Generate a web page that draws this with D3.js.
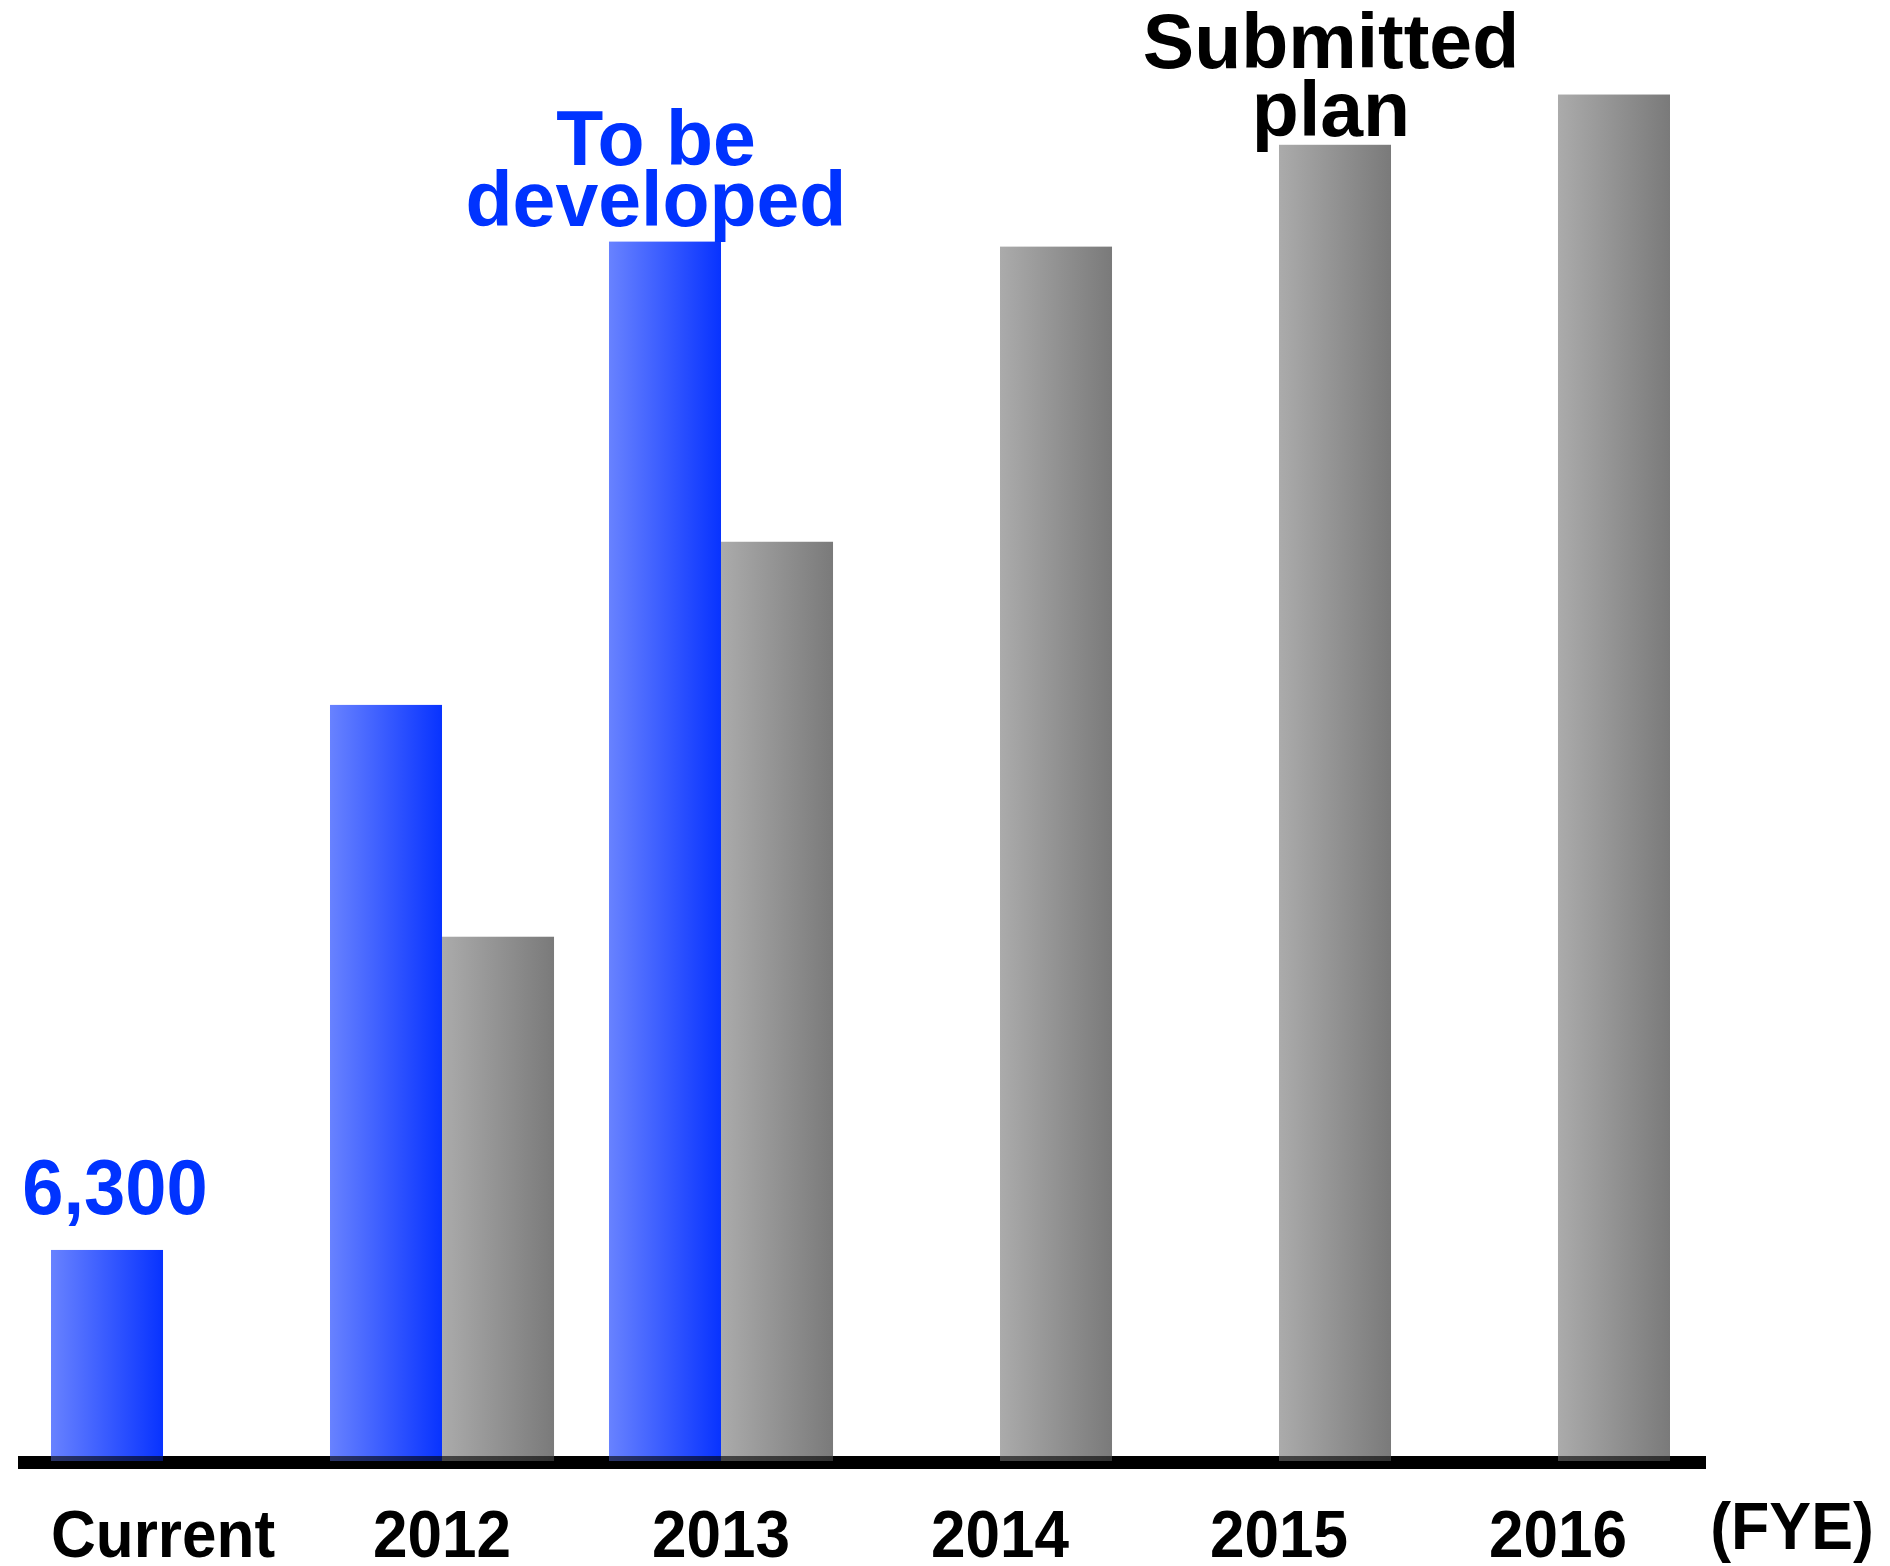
<!DOCTYPE html>
<html>
<head>
<meta charset="utf-8">
<script src="https://cdn.jsdelivr.net/npm/d3@7"></script>
<style>
  html, body { margin: 0; padding: 0; background: #fff; }
  svg { display: block; }
  text { font-family: "Liberation Sans", Arial, sans-serif; font-weight: bold; }
</style>
</head>
<body>
<script>
const categories = ["Current", "2012", "2013", "2014", "2015", "2016"];
const seriesKeys = ["developed", "submitted"];
const developedValues = [6300, 22570, 36400, null, null, null];
const submittedValues = [null, 15650, 27440, 36250, 39290, 40790];
const unitLabel = "(FYE)";
const currentLabel = "6,300";
const developedNote = ["To be", "developed"];
const submittedNote = ["Submitted", "plan"];

const W = 1890, H = 1566;
const baseY = 1461;

const svg = d3.select("body").append("svg").attr("width", W).attr("height", H);

const defs = svg.append("defs");
function grad(id, c0, c1) {
  const g = defs.append("linearGradient").attr("id", id)
    .attr("x1", "0%").attr("x2", "100%").attr("y1", "0%").attr("y2", "0%");
  g.append("stop").attr("offset", "0%").attr("stop-color", c0);
  g.append("stop").attr("offset", "100%").attr("stop-color", c1);
}
grad("gBlue", "#6882ff", "#0833ff");
grad("gGray", "#ababab", "#7a7a7a");

const x0 = d3.scaleBand().domain(categories).range([51, 1670]).paddingInner(0.197).paddingOuter(0);
const x1 = d3.scaleBand().domain(seriesKeys).range([0, x0.bandwidth()]).padding(0);
const y = d3.scaleLinear().domain([0, 42000]).range([baseY, 54]);

const rows = categories.map((c, i) => ({ cat: c, developed: developedValues[i], submitted: submittedValues[i] }));

// opaque axis line under bars
svg.append("rect").attr("x", 18).attr("y", 1456).attr("width", 1706 - 18).attr("height", 13).attr("fill", "#000");

const groups = svg.append("g").selectAll("g").data(rows).join("g")
  .attr("transform", d => `translate(${x0(d.cat)},0)`);

groups.selectAll("rect")
  .data(d => seriesKeys.filter(k => d[k] != null).map(k => ({ key: k, value: d[k] })))
  .join("rect")
  .attr("x", d => x1(d.key))
  .attr("width", x1.bandwidth())
  .attr("y", d => y(d.value))
  .attr("height", d => baseY - y(d.value))
  .attr("fill", d => d.key === "developed" ? "url(#gBlue)" : "url(#gGray)");

// semi-transparent axis overlay (darkens bar bottoms)
svg.append("rect").attr("x", 18).attr("y", 1456).attr("width", 1706 - 18).attr("height", 13)
  .attr("fill", "#000").attr("opacity", 0.6);

// category labels
svg.append("g").selectAll("text").data(categories).join("text")
  .attr("transform", d => `translate(${x0(d) + x0.bandwidth() / 2},1557) scale(0.94,1)`)
  .attr("text-anchor", "middle")
  .attr("font-size", 66)
  .attr("fill", "#000")
  .text(d => d);

svg.append("text")
  .attr("transform", "translate(1792,1549) scale(0.95,1)")
  .attr("text-anchor", "middle")
  .attr("font-size", 66)
  .attr("fill", "#000")
  .text(unitLabel);

// value label on current bar
svg.append("text")
  .attr("transform", `translate(115,${y(developedValues[0]) - 36}) scale(0.95,1)`)
  .attr("text-anchor", "middle")
  .attr("font-size", 78)
  .attr("fill", "#0033ff")
  .text(currentLabel);

// annotations
const devX = x0("2013") + x1("developed") + x1.bandwidth() / 2;
svg.append("text")
  .attr("x", 656).attr("y", 165)
  .attr("text-anchor", "middle").attr("font-size", 77).attr("fill", "#0033ff")
  .selectAll("tspan").data(developedNote).join("tspan")
  .attr("x", 656).attr("dy", (d, i) => i === 0 ? 0 : 61).text(d => d);

svg.append("text")
  .attr("x", 1331).attr("y", 68)
  .attr("text-anchor", "middle").attr("font-size", 77).attr("fill", "#000")
  .selectAll("tspan").data(submittedNote).join("tspan")
  .attr("x", 1331).attr("dy", (d, i) => i === 0 ? 0 : 68).text(d => d);
</script>
</body>
</html>
